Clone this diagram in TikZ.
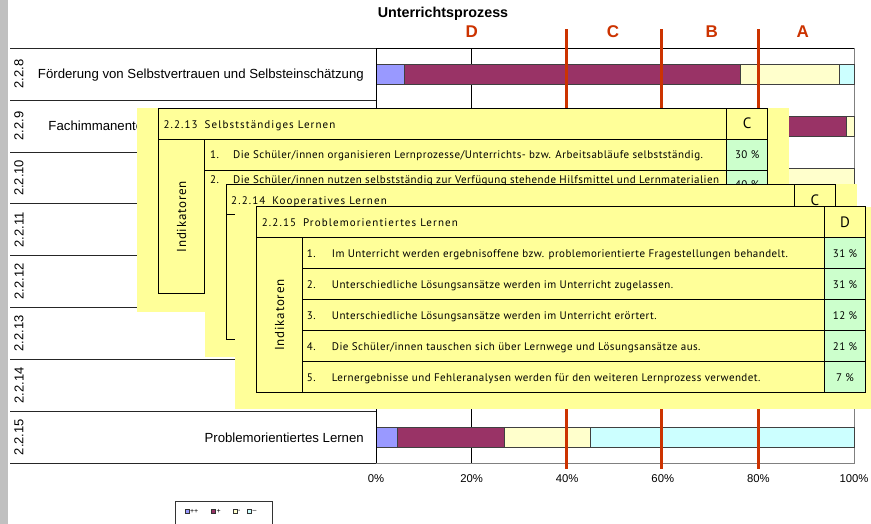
\documentclass[tikz,border=0pt]{standalone}
\usepackage{fontspec}
\setmainfont{Liberation Sans}
\newfontfamily\pf[LetterSpace=4]{PT Sans}
\newfontfamily\pfh[LetterSpace=10]{PT Sans}
\newfontfamily\pfi[LetterSpace=6]{PT Sans}
\definecolor{cpp}{HTML}{9999FF}
\definecolor{cp}{HTML}{993366}
\definecolor{cm}{HTML}{FFFFCC}
\definecolor{cmm}{HTML}{CCFFFF}
\definecolor{popy}{HTML}{FFFF99}
\definecolor{popg}{HTML}{CCFFCC}
\definecolor{redc}{HTML}{CC3300}
\definecolor{stripc}{HTML}{C0C0C0}
\tikzset{
 bar/.style={draw=black!75, line width=0.7pt},
 redline/.style={draw=redc, line width=3pt},
 redlet/.style={text=redc, font=\bfseries\fontsize{17}{20}\selectfont, inner sep=0pt},
 rowno/.style={rotate=90, font=\fontsize{13}{15}\selectfont, inner sep=0pt},
 catlab/.style={font=\fontsize{13.2}{15}\selectfont, inner sep=0pt},
 tick/.style={font=\fontsize{11.3}{13}\selectfont, inner sep=0pt},
 tline/.style={draw=black, line width=0.9pt},
 ptxt/.style={font=\pf\fontsize{11}{13}\selectfont, inner sep=0pt, anchor=base west},
 phead/.style={font=\pfh\fontsize{11}{13}\selectfont, inner sep=0pt, anchor=base west},
 pcen/.style={font=\pf\fontsize{11}{13}\selectfont, inner sep=0pt, anchor=base},
 pbig/.style={font=\pf\fontsize{15}{18}\selectfont, inner sep=0pt, anchor=base},
 pind/.style={font=\pfi\fontsize{13}{15}\selectfont, inner sep=0pt, rotate=90},
 legsq/.style={draw=black!80, line width=0.5pt},
 legtx/.style={font=\fontsize{7}{8}\selectfont, inner sep=0pt, anchor=west},
}
\begin{document}
\begin{tikzpicture}[x=1pt,y=-1pt]
\useasboundingbox (0,0) rectangle (871,524);
\fill[white] (0,0) rectangle (871,524);
\fill[stripc] (0,0) rectangle (8.3,524);
% title and grade letters
\node[font=\bfseries\fontsize{14.3}{17}\selectfont, inner sep=0pt] (title) at (443,14) {Unterrichtsprozess};
\node[redlet] (lD) at (471.7,32) {D};
\node[redlet] (lC) at (613,32) {C};
\node[redlet] (lB) at (711.7,32) {B};
\node[redlet] (lA) at (802.7,32) {A};
% plot area
\foreach \x in {471.6,567.2,662.8,758.4} \draw[black, line width=0.8pt] (\x,48.3) -- (\x,463);
\draw[gray, line width=1pt] (854,48.3) -- (854,463) -- (376,463);
\draw[black, line width=1pt] (376,48.3) -- (854,48.3);
% bars row 2.2.8
\filldraw[bar, fill=cpp] (376,64.3) rectangle (404.3,84.3);
\filldraw[bar, fill=cp] (404.3,64.3) rectangle (740,84.3);
\filldraw[bar, fill=cm] (740,64.3) rectangle (839.7,84.3);
\filldraw[bar, fill=cmm] (839.7,64.3) rectangle (854,84.3);
% bars row 2.2.9
\filldraw[bar, fill=cpp] (376,116) rectangle (400,136);
\filldraw[bar, fill=cp] (400,116) rectangle (846.7,136);
\filldraw[bar, fill=cm] (846.7,116) rectangle (854,136);
% bars row 2.2.10
\filldraw[bar, fill=cp] (400,168) rectangle (700,188);
\filldraw[bar, fill=cm] (700,168) rectangle (854,188);
% bars row 2.2.15
\filldraw[bar, fill=cpp] (376,427.3) rectangle (397,447.3);
\filldraw[bar, fill=cp] (397,427.3) rectangle (504,447.3);
\filldraw[bar, fill=cm] (504,427.3) rectangle (590,447.3);
\filldraw[bar, fill=cmm] (590,427.3) rectangle (854,447.3);
% red threshold lines
\draw[redline] (566.7,29.3) -- (566.7,469);
\draw[redline] (661.7,29.3) -- (661.7,469);
\draw[redline] (758.3,29.3) -- (758.3,469);
% category area
\foreach \k in {0,...,8} \draw[line width=0.9pt, black!85] (10,48.3+\k*51.84) -- (376,48.3+\k*51.84);
\draw[black, line width=1pt] (376,48.3) -- (376,463);
\foreach \k/\t in {0/2.2.8,1/2.2.9,2/2.2.10,3/2.2.11,4/2.2.12,5/2.2.13,6/2.2.14,7/2.2.15}
  \node[rowno] (rn\k) at (19,74.2+\k*51.84) {\t};
\node[catlab, anchor=base east] (cat1) at (364,79) {Förderung von Selbstvertrauen und Selbsteinschätzung};
\node[catlab, anchor=base west] (cat2) at (48.3,130.8) {Fachimmanente};
\node[catlab, anchor=base east] (cat8) at (364,442.2) {Problemorientiertes Lernen};
% axis labels
\foreach \p/\x in {0/376,20/471.6,40/567.2,60/662.8,80/758.4,100/854}
  \node[tick] (tk\p) at (\x,479) {\p\%};
% popup 1: 2.2.13
\fill[popy] (137,108.3) rectangle (789,311.7);
\fill[popg] (726.7,139.3) rectangle (767.7,201);
\draw[tline] (158.3,108.3) -- (767.7,108.3) -- (767.7,250);
\draw[tline] (158.3,139.3) -- (767.7,139.3);
\draw[tline] (726.7,108.3) -- (726.7,250);
\draw[tline] (204.3,170) -- (767.7,170);
\draw[tline] (158.3,108.3) -- (158.3,293.3) -- (204.3,293.3) -- (204.3,139.3);
\node[phead] (h13) at (163.3,128.3) {2.2.13\hspace{7pt}Selbstständiges Lernen};
\node[pbig] (c13) at (747.2,128.3) {C};
\node[ptxt] (n13a) at (210,158.3) {1.};
\node[ptxt] (t13a) at (233,158.3) {Die Schüler/innen organisieren Lernprozesse/Unterrichts- bzw. Arbeitsabläufe selbstständig.};
\node[pcen] (p13a) at (747.2,158.3) {30 \%};
\node[ptxt] (n13b) at (210,183.3) {2.};
\node[ptxt] (t13b) at (233,183.3) {Die Schüler/innen nutzen selbstständig zur Verfügung stehende Hilfsmittel und Lernmaterialien};
\node[pcen] (p13b) at (747.2,188.5) {40 \%};
\node[pind] (i13) at (181.7,216.7) {Indikatoren};
% popup 2: 2.2.14
\fill[popy] (205,184.3) rectangle (856.7,356.7);
\draw[tline] (226.3,339.3) -- (226.3,184.3) -- (835.3,184.3) -- (835.3,214.3);
\draw[tline] (226.3,214.3) -- (835.3,214.3);
\draw[tline] (794.3,184.3) -- (794.3,214.3);
\draw[tline] (226.3,339.3) -- (240,339.3);
\node[phead] (h14) at (231,204.3) {2.2.14\hspace{7pt}Kooperatives Lernen};
\node[pbig] (c14) at (814.8,206) {C};
% popup 3: 2.2.15
\fill[popy] (235,206.7) rectangle (886,409.3);
\fill[popg] (824.3,237.7) rectangle (865.7,392.3);
\draw[tline] (256.7,206.7) rectangle (865.7,392.3);
\draw[tline] (256.7,237.7) -- (865.7,237.7);
\draw[tline] (824.3,206.7) -- (824.3,392.3);
\draw[tline] (302.3,237.7) -- (302.3,392.3);
\foreach \yy in {268.3,299.3,330.3,361.3} \draw[tline] (302.3,\yy) -- (865.7,\yy);
\node[phead] (h15) at (261.7,226.7) {2.2.15\hspace{7pt}Problemorientiertes Lernen};
\node[pbig] (d15) at (845,227.3) {D};
\node[pind] (i15) at (279.5,315) {Indikatoren};
\node[ptxt] (n15a) at (306.7,257.3) {1.};
\node[ptxt] (t15a) at (331.7,257.3) {Im Unterricht werden ergebnisoffene bzw. problemorientierte Fragestellungen behandelt.};
\node[pcen] (p15a) at (845,257.3) {31 \%};
\node[ptxt] (n15b) at (306.7,288.1) {2.};
\node[ptxt] (t15b) at (331.7,288.1) {Unterschiedliche Lösungsansätze werden im Unterricht zugelassen.};
\node[pcen] (p15b) at (845,288.1) {31 \%};
\node[ptxt] (n15c) at (306.7,319.1) {3.};
\node[ptxt] (t15c) at (331.7,319.1) {Unterschiedliche Lösungsansätze werden im Unterricht erörtert.};
\node[pcen] (p15c) at (845,319.1) {12 \%};
\node[ptxt] (n15d) at (306.7,350.1) {4.};
\node[ptxt] (t15d) at (331.7,350.1) {Die Schüler/innen tauschen sich über Lernwege und Lösungsansätze aus.};
\node[pcen] (p15d) at (845,350.1) {21 \%};
\node[ptxt] (n15e) at (306.7,381.1) {5.};
\node[ptxt] (t15e) at (331.7,381.1) {Lernergebnisse und Fehleranalysen werden für den weiteren Lernprozess verwendet.};
\node[pcen] (p15e) at (845,381.1) {7 \%};
% legend
\draw[black!80, line width=0.7pt] (175,501) rectangle (272,535);
\filldraw[legsq, fill=cpp] (185,509) rectangle (189,513);
\node[legtx] (lg1) at (189.8,511) {++};
\filldraw[legsq, fill=cp] (211.5,509) rectangle (215.5,513);
\node[legtx] (lg2) at (216.3,511) {+};
\filldraw[legsq, fill=cm] (233,509) rectangle (237,513);
\node[legtx] (lg3) at (237.8,511) {-};
\filldraw[legsq, fill=cmm] (247.5,509) rectangle (251.5,513);
\node[legtx] (lg4) at (252.3,511) {--};
\end{tikzpicture}
\end{document}
